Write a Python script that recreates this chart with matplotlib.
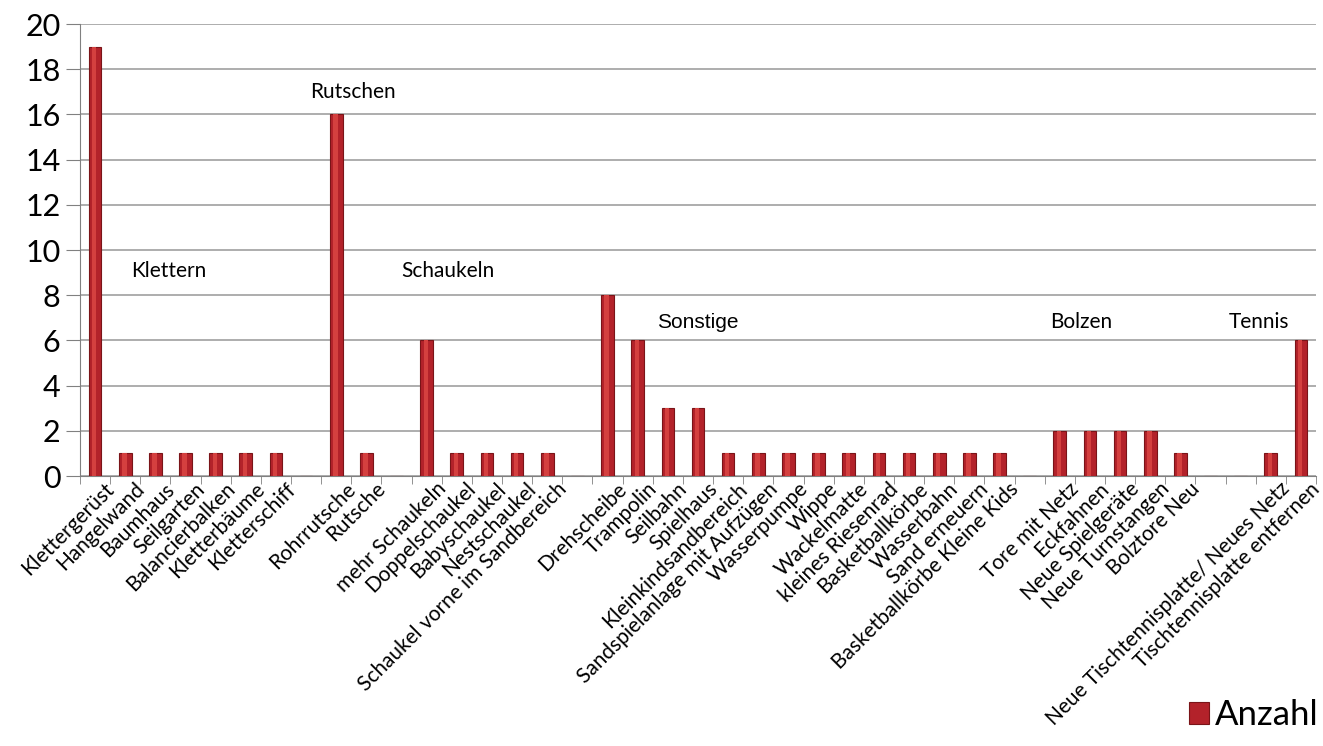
import matplotlib
matplotlib.use("Agg")
import matplotlib.pyplot as plt
import matplotlib.transforms as mtransforms
import numpy as np

categories = ["Klettergerüst", "Hangelwand", "Baumhaus", "Seilgarten", "Balancierbalken",
              "Kletterbäume", "Kletterschiff", "",
              "Rohrrutsche", "Rutsche", "",
              "mehr Schaukeln", "Doppelschaukel", "Babyschaukel", "Nestschaukel",
              "Schaukel vorne im Sandbereich", "",
              "Drehscheibe", "Trampolin", "Seilbahn", "Spielhaus", "Kleinkindsandbereich",
              "Sandspielanlage mit Aufzügen", "Wasserpumpe", "Wippe", "Wackelmatte",
              "kleines Riesenrad", "Basketballkörbe", "Wasserbahn", "Sand erneuern",
              "Basketballkörbe Kleine Kids", "",
              "Tore mit Netz", "Eckfahnen", "Neue Spielgeräte", "Neue Turnstangen",
              "Bolztore Neu", "", "",
              "Neue Tischtennisplatte/ Neues Netz", "Tischtennisplatte entfernen"]
anzahl = [19, 1, 1, 1, 1, 1, 1, 0,
          16, 1, 0,
          6, 1, 1, 1, 1, 0,
          8, 6, 3, 3, 1, 1, 1, 1, 1, 1, 1, 1, 1, 1, 0,
          2, 2, 2, 2, 1, 0, 0,
          1, 6]
group_labels = ["Klettern", "Rutschen", "Schaukeln", "Sonstige", "Bolzen", "Tennis"]
group_pos = [(2.46, 9.07), (8.54, 17.0), (11.7, 9.07), (20.0, 6.8), (32.7, 6.8), (38.6, 6.8)]

plt.rcParams['font.family'] = ['Lato', 'DejaVu Sans']

fig = plt.figure(figsize=(13.23, 7.46), dpi=100)
ax = fig.add_axes([80/1323, 1-476/746, (1316-80)/1323, (476-24)/746])

x = np.arange(len(categories))
w = 0.42
bars = ax.bar(x, anzahl, width=w, color="#B3222A", edgecolor="#7A1418", linewidth=0.8,
              zorder=3, label="Anzahl")
# highlight strip to give a cylinder-like look
ax.bar(x - 0.03, anzahl, width=w * 0.35, color="#D4403F", linewidth=0, zorder=4)

ax.set_xlim(-0.5, len(categories) - 0.5)
ax.set_ylim(0, 20)
ax.set_yticks(np.arange(0, 21, 2))
ax.tick_params(axis='y', labelsize=22, length=10, color="#808080", pad=4)
ax.set_xticks(x)
ax.set_xticklabels(categories, rotation=45, ha='right', rotation_mode='anchor', fontsize=15)
ax.tick_params(axis='x', length=0, pad=2)
offset = mtransforms.ScaledTranslation(9/100, 0, fig.dpi_scale_trans)
for lab in ax.get_xticklabels():
    lab.set_transform(lab.get_transform() + offset)
ax.set_xticks(np.arange(-0.5, len(categories), 1), minor=True)
ax.tick_params(axis='x', which='minor', length=6, color="#808080")
ax.yaxis.grid(True, color="#A0A0A0", linewidth=1.2, zorder=0)
ax.set_axisbelow(True)
for s in ['top', 'right']:
    ax.spines[s].set_visible(False)
ax.spines['left'].set_color("#808080")
ax.spines['bottom'].set_color("#808080")

for lbl, (gx, gy) in zip(group_labels, group_pos):
    fam = ['Liberation Sans'] if lbl == "Sonstige" else ['Lato']
    ax.text(gx, gy, lbl, fontsize=15, family=fam, ha='center', va='center', zorder=5)

fig.legend(handles=[bars], labels=["Anzahl"], loc='lower right', bbox_to_anchor=(1.02, -0.022),
           frameon=False, fontsize=25, handlelength=0.6, handleheight=0.6, handletextpad=0.15)

fig.savefig("out.png", dpi=100)
